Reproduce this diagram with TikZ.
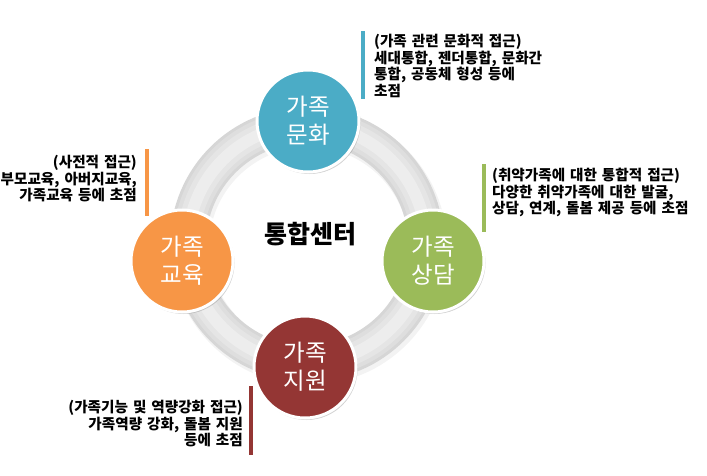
\documentclass[tikz,border=0pt]{standalone}
\usepackage{fontspec}
\setmainfont{Noto Sans CJK KR}
\usetikzlibrary{shadows}
\definecolor{cblue}{RGB}{75,172,198}
\definecolor{cgreen}{RGB}{155,187,89}
\definecolor{cred}{RGB}{148,54,52}
\definecolor{corange}{RGB}{247,150,70}
\definecolor{ringgray}{RGB}{214,214,214}
\newcommand\mylblfont{\bfseries\fontsize{14.6}{16.5}\selectfont\spaceskip=0.34em plus 0.1em\relax}
\tikzset{
  bubble/.style={circle, fill=#1, draw=white, line width=3pt, minimum size=102pt,
    inner sep=0pt, align=center, text=white,
    font=\fontsize{23.5}{28}\selectfont,
    drop shadow={shadow xshift=1.5pt, shadow yshift=-2pt, opacity=0.35}},
  lbl/.style={inner sep=0pt, font=\mylblfont},
  bar/.style={line width=4pt, draw=#1}
}
\begin{document}
\begin{tikzpicture}[x=1pt,y=-1pt]
\useasboundingbox (0,0) rectangle (707,475);
% ring
\coordinate (c) at (307,244);
\draw[line width=38pt, ringgray!60!white, opacity=0.5] ([shift={(2,3)}]c) circle (119);
\draw[line width=36pt, ringgray] (c) circle (119);
\draw[line width=30pt, white!20!ringgray] (c) circle (119);
\draw[line width=22pt, white!38!ringgray] (c) circle (119);
\draw[line width=12pt, white!55!ringgray] (c) circle (119);
% center text
\node[font=\bfseries\fontsize{25}{28}\selectfont] (center) at (310,234) {통합센터};
% bubbles
\node[bubble=cblue] (top) at (308,121) {가족\\문화};
\node[bubble=cgreen] (right) at (433,261) {가족\\상담};
\node[bubble=cred] (bottom) at (305,367) {가족\\지원};
\node[bubble=corange] (left) at (182,261) {가족\\교육};
% labels
\node[lbl, anchor=north west, align=left] (ltop) at (374,34)
  {(가족 관련 문화적 접근)\\세대통합, 젠더통합, 문화간\\통합, 공동체 형성 등에\\초점};
\coordinate (bt1) at (363,31); \coordinate (bt2) at (363,99);
\draw[bar=cblue] (bt1) -- (bt2);
\node[lbl, anchor=north east, align=right] (lleft) at (137,155)
  {(사전적 접근)\\부모교육, 아버지교육,\\가족교육 등에 초점};
\coordinate (bl1) at (147,149); \coordinate (bl2) at (147,216);
\draw[bar=corange] (bl1) -- (bl2);
\node[lbl, anchor=north west, align=left] (lright) at (492,168)
  {(취약가족에 대한 통합적 접근)\\다양한 취약가족에 대한 발굴,\\상담, 연계, 돌봄 제공 등에 초점};
\coordinate (br1) at (484,164); \coordinate (br2) at (484,232);
\draw[bar=cgreen] (br1) -- (br2);
\node[lbl, anchor=north east, align=right] (lbottom) at (243,400)
  {(가족기능 및 역량강화 접근)\\가족역량 강화, 돌봄 지원\\등에 초점};
\coordinate (bb1) at (251,386); \coordinate (bb2) at (251,455);
\draw[bar=cred] (bb1) -- (bb2);
\end{tikzpicture}
\end{document}
